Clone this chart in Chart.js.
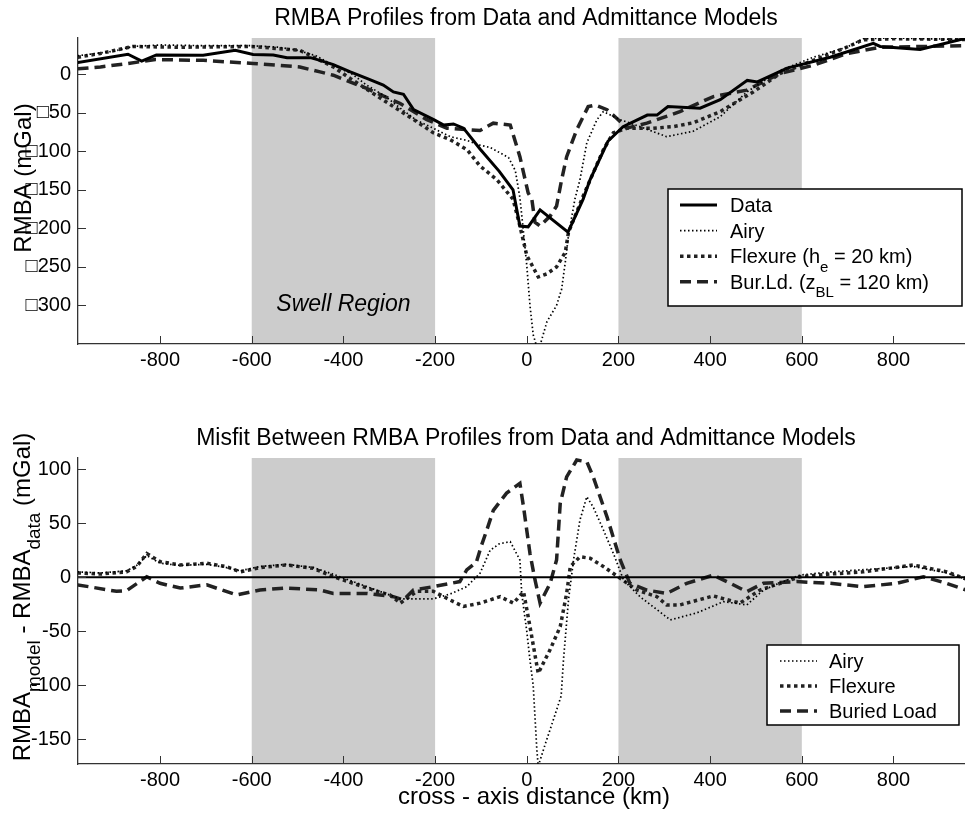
<!DOCTYPE html>
<html>
<head>
<meta charset="utf-8">
<script src="https://cdn.jsdelivr.net/npm/chart.js@4.4.0/dist/chart.umd.min.js"></script>
<style>
  html, body { margin: 0; padding: 0; background: #fff; overflow: hidden; }
  canvas { position: absolute; left: 0; }
  #top { top: 0; }
  #bot { top: 410px; }
</style>
</head>
<body>
<canvas id="top" width="965" height="410"></canvas>
<canvas id="bot" width="965" height="406"></canvas>
<script>
// shared x axis
var xTicks = [-800, -600, -400, -200, 0, 200, 400, 600, 800];
var xTickLabels = ['-800', '-600', '-400', '-200', '0', '200', '400', '600', '800'];
var swell = [[-600, -200], [200, 600]];

// top panel: RMBA profiles
var topYTicks = [-300, -250, -200, -150, -100, -50, 0];
var topYLabels = ['\u25A1300', '\u25A1250', '\u25A1200', '\u25A1150', '\u25A1100', '\u25A150', '0'];

var dataX = [-980, -870, -840, -808, -706, -636, -597, -553, -523, -472, -451, -422, -385, -349, -313, -291, -269, -247, -203, -181, -160, -138, -102, -60, -30, -15, 3, 29, 90, 123, 138, 177, 210, 263, 284, 308, 378, 422, 481, 503, 568, 662, 756, 771, 858, 960];
var dataY = [15, 26, 17, 25, 24.5, 31, 25.5, 25, 21.5, 21.5, 18, 12.5, 3, -5.5, -14, -23, -26, -46, -59, -66, -64.5, -70, -97, -126, -150, -197, -198, -176, -205, -162, -137, -87, -68, -53, -53, -42, -44, -33, -8, -10, 8, 22, 40, 36, 32, 47];

var airyX = [-980, -940, -900, -860, -800, -700, -600, -540, -500, -460, -420, -380, -350, -310, -276, -240, -211, -167, -130, -102, -80, -40, -25, -15, -8, 0, 7, 14, 25, 44, 65, 76, 84, 91, 105, 116, 131, 153, 167, 204, 247, 305, 363, 422, 480, 553, 625, 698, 734, 800, 960];
var airyY = [24, 27, 30, 36, 38, 37, 37, 35, 31, 24, 11, 0, -14, -28, -44, -60, -68, -81, -86, -92, -95, -108, -125, -160, -200, -248, -300, -338, -360, -321, -300, -279, -244, -209, -162, -137, -89, -59, -48.5, -59, -68, -81, -74, -55, -23, 5, 22, 35, 46, 47, 45];

var flexX = [-980, -930, -860, -760, -600, -495, -422, -385, -313, -240, -204, -167, -130, -102, -65, -36, -30, -15, 0, 25, 44, 65, 84, 91, 123, 145, 167, 189, 219, 276, 320, 363, 422, 494, 553, 625, 698, 734, 800, 960];
var flexY = [22, 27, 36, 35, 36, 31, 9.5, -5.6, -33.5, -61.5, -76, -85, -98, -119, -137, -158, -162, -197, -235, -263, -259, -250, -231, -205, -158, -128, -98, -76, -70, -70, -68, -63, -48.5, -23, 1, 18, 35, 44.7, 46, 45];

var burX = [-980, -930, -870, -810, -706, -597, -495, -451, -422, -349, -276, -218, -174, -102, -73, -36, -15, 3, 11, 18, 29, 51, 65, 76, 87, 109, 134, 149, 175, 196, 218, 262, 334, 407, 480, 553, 625, 698, 771, 960];
var burY = [7, 9.4, 14, 19, 18, 14, 9.4, 3, -1.3, -18.5, -38, -59, -70, -73, -63.5, -66, -107, -154, -162, -192, -197, -184, -171, -137, -107, -72, -42, -40, -46, -57, -70, -63.5, -48.6, -29, -20.6, 1, 11.6, 26.7, 35, 37];

// bottom panel: misfit
var botYTicks = [-150, -100, -50, 0, 50, 100];
var botYLabels = ['-150', '-100', '-50', '0', '50', '100'];

var airyMisX = [-980, -930, -873, -851, -829, -800, -756, -698, -655, -625, -582, -524, -466, -428, -349, -276, -233, -204, -167, -131, -102, -80, -60, -36, -15, -11, 0, 7, 14, 18, 22, 25, 40, 58, 75, 80, 91, 102, 116, 131, 145, 167, 189, 211, 247, 284, 313, 371, 429, 480, 516, 553, 596, 662, 734, 843, 916, 960];
var airyMisY = [5, 4, 6, 11, 20, 13, 11, 12, 9, 6, 10, 12, 9, 3.7, -8.7, -20, -20, -20, -15.5, -8.7, 3.7, 25, 31, 33, 16, -15, -50, -77, -100, -130, -160, -175, -155, -132, -110, -77, -21, 16, 53, 74.6, 65, 44, 22, -2.5, -18, -30, -39.5, -33, -22.6, -25.6, -12, -5, 2, 5, 7, 10, 4, -2];

var flexMisX = [-980, -930, -873, -851, -829, -800, -756, -698, -655, -625, -582, -524, -466, -422, -379, -327, -298, -276, -240, -204, -160, -138, -102, -58, -29, -7, 7, 25, 51, 73, 87, 95, 116, 138, 167, 204, 240, 284, 305, 334, 407, 465, 509, 553, 596, 662, 734, 843, 916, 960];
var flexMisY = [4, 3, 5, 10, 22, 14.5, 11.4, 13, 9.8, 5, 9, 11.4, 8.3, 0.5, -5.6, -13, -16.4, -24, -13, -13, -22.6, -27, -24, -18, -24, -13.3, -45.7, -89, -67, -45.7, -15, 10, 19, 17.6, 10, -1, -11.8, -18, -25.6, -25.6, -17.3, -24, -11.8, -5.6, 0.5, 3, 5, 11.4, 5, -2];

var burMisX = [-980, -895, -873, -829, -800, -756, -698, -633, -582, -524, -451, -422, -349, -291, -269, -247, -204, -146, -131, -110, -100, -87, -73, -44, -15, -7, 7, 18, 29, 51, 65, 73, 87, 109, 131, 145, 175, 204, 225, 262, 305, 349, 407, 444, 480, 516, 589, 662, 734, 807, 865, 916, 960];
var burMisY = [-7, -13, -12.4, 0.5, -5.6, -10, -7, -16.4, -11.8, -10, -11.8, -15, -15, -18, -21, -11.8, -8.7, -4, 6.8, 14, 28, 44, 62, 78, 87, 65, 22, -2.5, -24, -5.6, 16, 68.5, 93, 108.6, 107, 93, 56, 16, -5.6, -11.8, -15, -5.6, 2, -5.6, -13.3, -5.6, -4, -5.6, -8.7, -5.6, 0.5, -5.6, -12];

var zeroX = [-979, 956];
var zeroY = [0, 0];

var FONT = "'Liberation Sans', Arial, Helvetica, sans-serif";
Chart.defaults.font.family = FONT;
Chart.defaults.font.size = 20;
Chart.defaults.color = '#000';

var styles = {
  data: { borderColor: '#000', borderWidth: 3, borderDash: [] },
  airy: { borderColor: '#000', borderWidth: 1.7, borderDash: [1.5, 2.5] },
  flex: { borderColor: '#222', borderWidth: 3.5, borderDash: [3.5, 3.5] },
  bur:  { borderColor: '#222', borderWidth: 3.5, borderDash: [11, 6] },
  zero: { borderColor: '#000', borderWidth: 2, borderDash: [] }
};

function pts(xs, ys) {
  return xs.map(function (x, i) { return { x: x, y: ys[i] }; });
}

function line(label, xs, ys, st) {
  var s = styles[st];
  return {
    label: label, data: pts(xs, ys),
    borderColor: s.borderColor, borderWidth: s.borderWidth, borderDash: s.borderDash,
    pointRadius: 0, tension: 0, fill: false, borderCapStyle: 'butt'
  };
}

// text with subscripts: parts = [[text, isSub], ...]
function rich(ctx, parts, x, y, size, center, subRatio) {
  var sub = Math.round(size * (subRatio || 0.75));
  var w = 0;
  parts.forEach(function (p) {
    ctx.font = (p[1] ? sub : size) + 'px ' + FONT;
    w += ctx.measureText(p[0]).width;
  });
  var cx = center ? x - w / 2 : x;
  ctx.textAlign = 'left';
  ctx.textBaseline = 'alphabetic';
  parts.forEach(function (p) {
    ctx.font = (p[1] ? sub : size) + 'px ' + FONT;
    ctx.fillText(p[0], cx, y + (p[1] ? size * 0.42 : 0));
    cx += ctx.measureText(p[0]).width;
  });
}

var deco = {
  id: 'deco',
  beforeDraw: function (chart) {
    var ctx = chart.ctx, a = chart.chartArea, xs = chart.scales.x;
    ctx.save();
    ctx.fillStyle = '#cccccc';
    swell.forEach(function (b) {
      var x0 = xs.getPixelForValue(b[0]), x1 = xs.getPixelForValue(b[1]);
      ctx.fillRect(x0, a.top, x1 - x0, a.bottom - a.top);
    });
    ctx.restore();
  },
  afterDraw: function (chart, args, o) {
    var ctx = chart.ctx, a = chart.chartArea, xs = chart.scales.x, ys = chart.scales.y;
    ctx.save();
    // ticks point inward
    ctx.strokeStyle = '#333';
    ctx.lineWidth = 1;
    ctx.setLineDash([]);
    ctx.beginPath();
    xTicks.forEach(function (v) {
      var p = Math.round(xs.getPixelForValue(v)) + 0.5;
      ctx.moveTo(p, a.bottom); ctx.lineTo(p, a.bottom - 8);
    });
    o.yTicks.forEach(function (v) {
      var p = Math.round(ys.getPixelForValue(v)) + 0.5;
      ctx.moveTo(a.left, p); ctx.lineTo(a.left + 8, p);
    });
    ctx.stroke();

    ctx.fillStyle = '#000';
    ctx.textAlign = 'center';
    ctx.textBaseline = 'alphabetic';
    ctx.font = '23px ' + FONT;
    ctx.fillText(o.title, 526, o.titleY);

    if (o.note) {
      ctx.font = 'italic 23px ' + FONT;
      ctx.fillText(o.note.text, xs.getPixelForValue(o.note.x), o.note.y);
    }
    if (o.xTitle) {
      ctx.font = '24px ' + FONT;
      ctx.fillText(o.xTitle.text, o.xTitle.x, o.xTitle.y);
    }

    ctx.save();
    ctx.translate(o.yTitleX, o.yTitleY);
    ctx.rotate(-Math.PI / 2);
    rich(ctx, o.yTitle, 0, 0, o.yTitleSize, true, 0.8);
    ctx.restore();

    // legend box
    var L = o.legend;
    ctx.fillStyle = '#fff';
    ctx.fillRect(L.box[0], L.box[1], L.box[2], L.box[3]);
    ctx.strokeStyle = '#000';
    ctx.lineWidth = 1.5;
    ctx.strokeRect(L.box[0], L.box[1], L.box[2], L.box[3]);
    L.items.forEach(function (it, i) {
      var by = L.baseY + i * L.step;
      var s = styles[it.style];
      ctx.strokeStyle = s.borderColor;
      ctx.lineWidth = s.borderWidth;
      ctx.setLineDash(s.borderDash);
      ctx.beginPath();
      ctx.moveTo(L.lineX[0], by - 7);
      ctx.lineTo(L.lineX[1], by - 7);
      ctx.stroke();
      ctx.setLineDash([]);
      ctx.fillStyle = '#000';
      rich(ctx, it.parts, L.textX, by, 20, false);
    });
    ctx.restore();
  }
};

function scalesFor(ymin, ymax, yTicks, yLabels, xHeight) {
  return {
    x: {
      type: 'linear', min: -979, max: 956,
      grid: { display: false, drawTicks: false },
      border: { display: true, color: '#333', width: 1.3 },
      afterBuildTicks: function (s) { s.ticks = xTicks.map(function (v) { return { value: v }; }); },
      afterFit: function (s) { s.height = xHeight; },
      ticks: {
        autoSkip: false, maxRotation: 0, padding: 4,
        callback: function (v) { return xTickLabels[xTicks.indexOf(v)]; }
      }
    },
    y: {
      type: 'linear', min: ymin, max: ymax,
      grid: { display: false, drawTicks: false },
      border: { display: true, color: '#333', width: 1.3 },
      afterBuildTicks: function (s) { s.ticks = yTicks.map(function (v) { return { value: v }; }); },
      afterFit: function (s) { s.width = 78; },
      ticks: {
        autoSkip: false, padding: 7,
        callback: function (v) { return yLabels[yTicks.indexOf(v)]; }
      }
    }
  };
}

new Chart(document.getElementById('top').getContext('2d'), {
  type: 'line',
  data: {
    datasets: [
      line('Data', dataX, dataY, 'data'),
      line('Airy', airyX, airyY, 'airy'),
      line('Flexure', flexX, flexY, 'flex'),
      line('Bur.Ld.', burX, burY, 'bur')
    ]
  },
  options: {
    responsive: false, animation: false,
    layout: { padding: { top: 38, left: 0, right: 0, bottom: 0 } },
    scales: scalesFor(-350, 47, topYTicks, topYLabels, 66),
    plugins: {
      legend: { display: false }, tooltip: { enabled: false },
      deco: {
        title: 'RMBA Profiles from Data and Admittance Models', titleY: 25,
        yTitle: [['RMBA (mGal)']], yTitleX: 31, yTitleY: 178, yTitleSize: 24,
        yTicks: topYTicks,
        note: { text: 'Swell Region', x: -400, y: 311 },
        legend: {
          box: [668, 189, 294, 117], baseY: 212, step: 25.6, lineX: [680, 717], textX: 730,
          items: [
            { parts: [['Data']], style: 'data' },
            { parts: [['Airy']], style: 'airy' },
            { parts: [['Flexure (h'], ['e', 1], [' = 20 km)']], style: 'flex' },
            { parts: [['Bur.Ld. (z'], ['BL', 1], [' = 120 km)']], style: 'bur' }
          ]
        }
      }
    }
  },
  plugins: [deco]
});

new Chart(document.getElementById('bot').getContext('2d'), {
  type: 'line',
  data: {
    datasets: [
      line('zero', zeroX, zeroY, 'zero'),
      line('Airy', airyMisX, airyMisY, 'airy'),
      line('Flexure', flexMisX, flexMisY, 'flex'),
      line('Buried Load', burMisX, burMisY, 'bur')
    ]
  },
  options: {
    responsive: false, animation: false,
    layout: { padding: { top: 48, left: 0, right: 0, bottom: 0 } },
    scales: scalesFor(-173, 110.5, botYTicks, botYLabels, 52),
    plugins: {
      legend: { display: false }, tooltip: { enabled: false },
      deco: {
        title: 'Misfit Between RMBA Profiles from Data and Admittance Models', titleY: 35,
        yTitle: [['RMBA'], ['model', 1], [' - RMBA'], ['data', 1], [' (mGal)']], yTitleX: 30, yTitleY: 187, yTitleSize: 24,
        yTicks: botYTicks,
        xTitle: { text: 'cross - axis distance (km)', x: 534, y: 394 },
        legend: {
          box: [767, 235, 192, 80], baseY: 258, step: 25, lineX: [780, 817], textX: 829,
          items: [
            { parts: [['Airy']], style: 'airy' },
            { parts: [['Flexure']], style: 'flex' },
            { parts: [['Buried Load']], style: 'bur' }
          ]
        }
      }
    }
  },
  plugins: [deco]
});
</script>
</body>
</html>
